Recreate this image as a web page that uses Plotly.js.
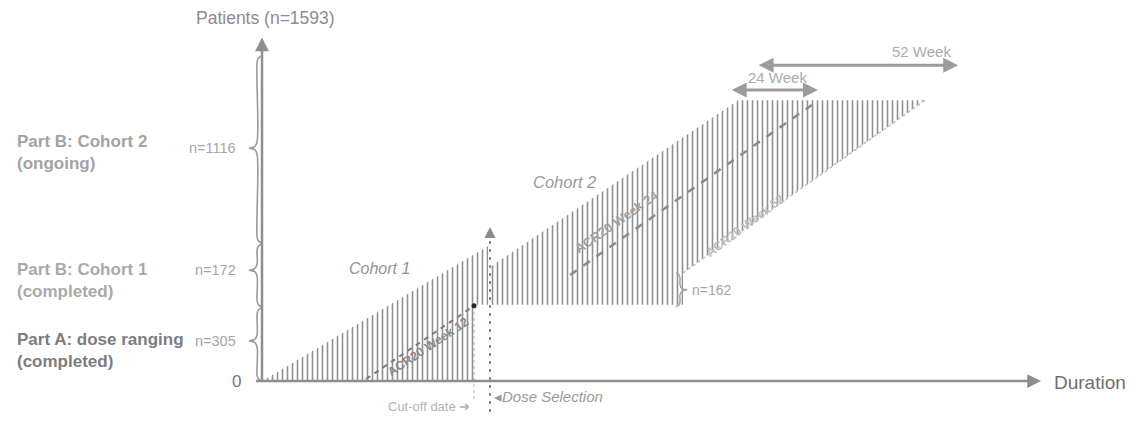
<!DOCTYPE html>
<html>
<head>
<meta charset="utf-8">
<script src="https://cdn.plot.ly/plotly-3.0.1.min.js"></script>
<style>
html,body{margin:0;padding:0;background:#fff;}
#chart{width:1130px;height:422px;}
</style>
</head>
<body>
<div id="chart"></div>
<script>
// ---- schematic data (x: duration in weeks-like units, y: schematic patient height units) ----
const axisX = [-2, 205];
const axisY = [0, 101];

const cohort1X = [0.5, 59.5, 59.5, 55.8, 55.8];
const cohort1Y = [0.3, 39.7, 22.4, 22.4, 0.3];

const cohort2X = [60, 60, 125.3, 174.5, 110.8, 110.8];
const cohort2Y = [22.4, 33.5, 82.6, 82.6, 31.8, 22.4];

const week12X = [27.4, 55.8];
const week12Y = [0.6, 22.1];
const week24X = [81.1, 144.7];
const week24Y = [31.2, 81.2];
const week52X = [110.8, 174.5];
const week52Y = [31.8, 82.6];

const doseSelX = [60, 60];
const doseSelY = [-9.1, 43];
const cutoffX = [55.8, 55.8];
const cutoffY = [22.1, -5.6];

const groupLabels = ['Part B: Cohort 2<br>(ongoing)', 'Part B: Cohort 1<br>(completed)', 'Part A: dose ranging<br>(completed)'];
const groupColors = ['#a3a3a3', '#a9a9a9', '#7d7d7d'];
const groupLabelY = [67.1, 29.7, 9.1];
const groupN = ['n=1116', 'n=172', 'n=305'];
const braceLow = [40.6, 21.8, 0];
const braceHigh = [95.6, 40.3, 21.5];
const braceMid = [68.5, 32.6, 11.8];

const subBraceLabel = 'n=162';
const subBraceLow = 21.8, subBraceHigh = 31.8, subBraceMid = 26.8;

const spanLabels = ['24 Week', '52 Week'];
const spanStart = [123.2, 130.3];
const spanEnd = [146.3, 183.2];
const spanY = [85.6, 92.9];

const diagLabels = ['ACR20 Week 12', 'ACR20 Week 24', 'ACR20 Week 52'];
const diagLabelX = [43.7, 93.4, 127.1];
const diagLabelY = [10.0, 47.0, 45.6];
const diagAngle = [-34, -35, -37];
const diagSize = [12.5, 13, 12.5];
const diagColor = ['#8a8a8a', '#a0a0a0', '#bdbdbd'];

// ---- helpers ----
const FONT = 'Liberation Sans, Arial, sans-serif';
const GREY = '#8e8e8e';

function bracePts(xs, y0, y1, ym, w, e, d) {
  // w: tip offset (signed), e: end curl offset (signed), d: vertical rounding
  return {
    x: [xs + e, xs + e * 0.25, xs, xs, xs - w * 0.3, xs - w, xs - w * 0.3, xs, xs, xs + e * 0.25, xs + e],
    y: [y1, y1 - d * 0.4, y1 - d, ym + d, ym + d * 0.25, ym, ym - d * 0.25, ym - d, y0 + d, y0 + d * 0.4, y0]
  };
}

const traces = [];

// hatched cohort areas
const pattern = {shape: '|', size: 5, solidity: 0.32, fgcolor: '#909090', fgopacity: 1};
traces.push({x: cohort1X, y: cohort1Y, mode: 'lines', fill: 'toself',
  fillcolor: 'rgba(255,255,255,0)', fillpattern: pattern, line: {width: 0}, hoverinfo: 'skip'});
traces.push({x: cohort2X, y: cohort2Y, mode: 'lines', fill: 'toself',
  fillcolor: 'rgba(255,255,255,0)', fillpattern: pattern, line: {width: 0}, hoverinfo: 'skip'});

// diagonal milestone lines
traces.push({x: week12X, y: week12Y, mode: 'lines', line: {color: '#7a7a7a', width: 2, dash: '5px,5px'}});
traces.push({x: week24X, y: week24Y, mode: 'lines', line: {color: '#8a8a8a', width: 2.5, dash: '8px,8px'}});
traces.push({x: week52X, y: week52Y, mode: 'lines', line: {color: '#c0c0c0', width: 1.5, dash: 'dot'}});

// dose selection dashed line and cut-off dotted line
traces.push({x: doseSelX, y: doseSelY, mode: 'lines', line: {color: '#8a8a8a', width: 2, dash: '3px,5px'}});
traces.push({x: cutoffX, y: cutoffY, mode: 'lines', line: {color: '#b0b0b0', width: 1, dash: 'dot'}});
traces.push({x: [cutoffX[0]], y: [cutoffY[0]], mode: 'markers', marker: {color: '#222', size: 5}});

// braces
for (let i = 0; i < groupN.length; i++) {
  const b = bracePts(-1.3, braceLow[i], braceHigh[i], braceMid[i], 2.0, 1.1, 1.8);
  traces.push({x: b.x, y: b.y, mode: 'lines', line: {color: '#9a9a9a', width: 1.6, shape: 'spline'}});
}
const sb = bracePts(110.0, subBraceLow, subBraceHigh, subBraceMid, -1.8, -1.1, 1.5);
traces.push({x: sb.x, y: sb.y, mode: 'lines', line: {color: '#a0a0a0', width: 1.4, shape: 'spline'}});

// ---- annotations ----
const ann = [];
function arrow(x, y, ax, ay, opts) {
  return Object.assign({x: x, y: y, ax: ax, ay: ay, xref: 'x', yref: 'y', axref: 'x', ayref: 'y',
    text: '', showarrow: true, arrowhead: 2, arrowsize: 1, arrowwidth: 2.5, arrowcolor: GREY,
    standoff: 0, startstandoff: 0}, opts || {});
}
// axes
ann.push(arrow(axisX[1], 0, axisX[0], 0, {arrowsize: 1.1}));
ann.push(arrow(0, axisY[1], 0, -0.2, {arrowsize: 1.1}));
// dose selection arrowhead
ann.push(arrow(doseSelX[0], doseSelY[1] + 2.3, doseSelX[0], doseSelY[1] - 0.5, {arrowwidth: 2, arrowcolor: '#8a8a8a', arrowsize: 1.1}));
// week spans
for (let i = 0; i < spanLabels.length; i++) {
  ann.push(arrow(spanEnd[i], spanY[i], spanStart[i], spanY[i],
    {arrowside: 'end+start', startarrowhead: 2, arrowwidth: 3, arrowcolor: '#9c9c9c', arrowsize: 1, startarrowsize: 1}));
}
ann.push({x: (spanStart[0] + spanEnd[0]) / 2 + 0.8, y: spanY[0] + 3.6, text: spanLabels[0], showarrow: false,
  font: {family: FONT, size: 15, color: '#ababab'}});
ann.push({x: spanEnd[1] - 1.3, y: spanY[1] + 3.9, text: spanLabels[1], showarrow: false, xanchor: 'right',
  font: {family: FONT, size: 15, color: '#ababab'}});

function txt(x, y, text, size, color, extra) {
  return Object.assign({x: x, y: y, xref: 'x', yref: 'y', text: text, showarrow: false,
    font: {family: FONT, size: size, color: color}}, extra || {});
}
ann.push(txt(0.8, 106.8, 'Patients (n=1593)', 17.5, '#8c8c8c'));
ann.push(txt(208.0, -0.4, 'Duration', 19, '#6f6f6f', {xanchor: 'left'}));
ann.push(txt(-6.6, 0, '0', 17, '#777', {}));
for (let i = 0; i < groupLabels.length; i++) {
  ann.push(txt(-65, groupLabelY[i], '<b>' + groupLabels[i] + '</b>', 17, groupColors[i], {xanchor: 'left', align: 'left'}));
  ann.push(txt(-6.3, braceMid[i], groupN[i], 14.5, '#a5a5a5', {xanchor: 'right'}));
}
ann.push(txt(112.6, subBraceMid, subBraceLabel, 14, '#a5a5a5', {xanchor: 'left'}));
ann.push(txt(31.0, 33.2, '<i>Cohort 1</i>', 16, '#929292'));
ann.push(txt(79.7, 58.5, '<i>Cohort 2</i>', 16.5, '#9a9a9a'));
for (let i = 0; i < diagLabels.length; i++) {
  ann.push(txt(diagLabelX[i], diagLabelY[i], '<b>' + diagLabels[i] + '</b>', diagSize[i], diagColor[i], {textangle: diagAngle[i]}));
}
ann.push(txt(60.5, -4.7, '◂<i>Dose Selection</i>', 15, '#9a9a9a', {xanchor: 'left'}));
ann.push(txt(55.3, -7.6, 'Cut-off date ➜', 13, '#b2b2b2', {xanchor: 'right'}));

const layout = {
  width: 1130, height: 422,
  margin: {l: 0, r: 0, t: 0, b: 0},
  paper_bgcolor: '#ffffff', plot_bgcolor: '#ffffff',
  showlegend: false,
  xaxis: {range: [-68.95, 228.42], visible: false, fixedrange: true},
  yaxis: {range: [-12.06, 112.06], visible: false, fixedrange: true},
  annotations: ann
};

Plotly.newPlot('chart', traces, layout, {staticPlot: true, displayModeBar: false});
</script>
</body>
</html>
